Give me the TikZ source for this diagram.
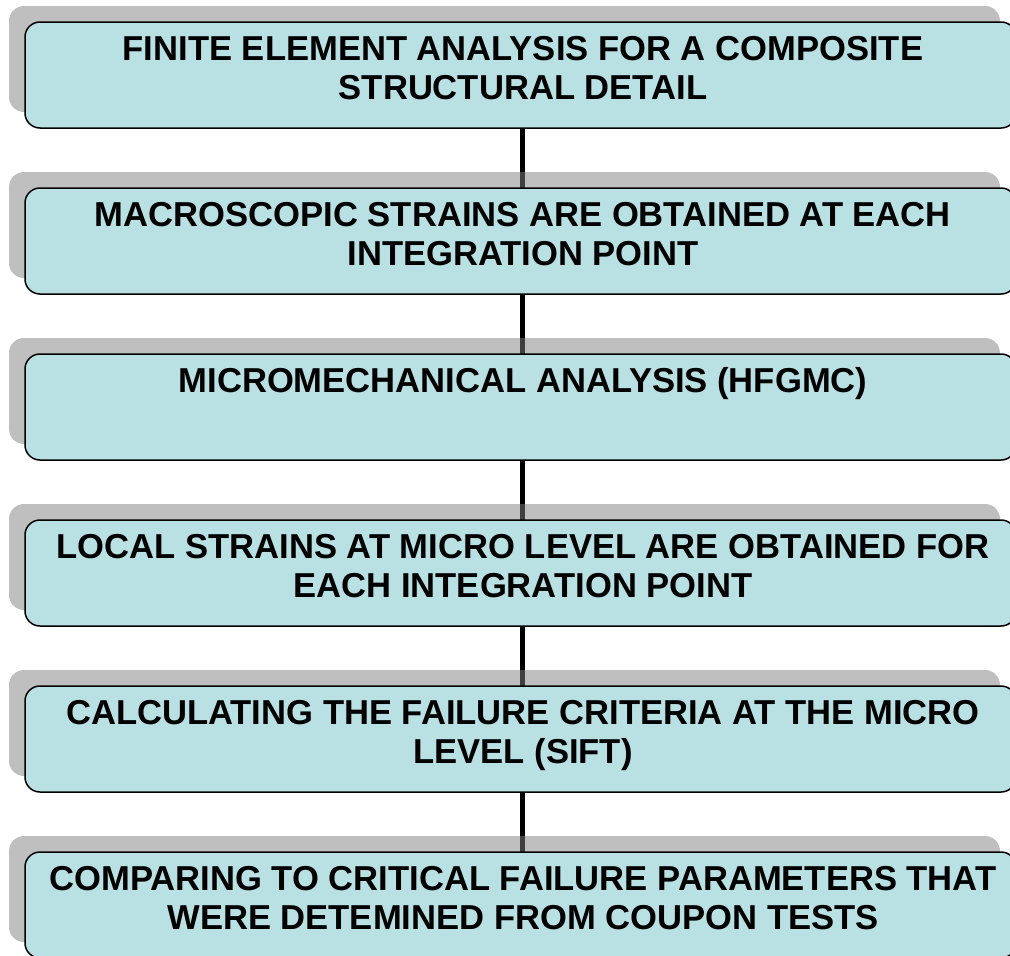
\documentclass[tikz,border=0pt]{standalone}
\usepackage{fontspec}
\setmainfont{Liberation Sans}
\usetikzlibrary{shadows,backgrounds}
\definecolor{boxfill}{RGB}{185,224,227}
\tikzset{
  stepbox/.style={draw=black, line width=1.5pt, fill=boxfill, rounded corners=15pt,
    minimum width=991pt, minimum height=106pt, inner sep=0pt, outer sep=0pt,
    drop shadow={shadow xshift=-16pt, shadow yshift=16pt, opacity=0.5, fill=black!50}},
  steptext/.style={anchor=base, align=center, inner sep=0pt,
    font=\bfseries\fontsize{34.6}{38.5}\selectfont},
  link/.style={line width=5pt, draw=black}
}
\begin{document}
\begin{tikzpicture}[x=1pt,y=-1pt]
\useasboundingbox (0,0) rectangle (1010,956);
\clip (0,0) rectangle (1010,956);
\node[stepbox] (b1) at (520.5,75) {};
\node[stepbox] (b2) at (520.5,241) {};
\node[stepbox] (b3) at (520.5,407) {};
\node[stepbox] (b4) at (520.5,573) {};
\node[stepbox] (b5) at (520.5,739) {};
\node[stepbox] (b6) at (520.5,905) {};
\node[steptext] (t1) at (523,99) {FINITE ELEMENT ANALYSIS FOR A COMPOSITE\\STRUCTURAL DETAIL};
\node[steptext] (t2) at (523,265) {MACROSCOPIC STRAINS ARE OBTAINED AT EACH\\INTEGRATION POINT};
\node[steptext] (t3) at (523,392.5) {MICROMECHANICAL ANALYSIS (HFGMC)};
\node[steptext] (t4) at (523,597) {LOCAL STRAINS AT MICRO LEVEL ARE OBTAINED FOR\\EACH INTEGRATION POINT};
\node[steptext] (t5) at (523,763) {CALCULATING THE FAILURE CRITERIA AT THE MICRO\\LEVEL (SIFT)};
\node[steptext] (t6) at (523,929) {COMPARING TO CRITICAL FAILURE PARAMETERS THAT\\WERE DETEMINED FROM COUPON TESTS};
\begin{pgfonlayer}{background}
\draw[link] ([xshift=1.5pt]b1.south) -- ([xshift=1.5pt]b2.north);
\draw[link] ([xshift=1.5pt]b2.south) -- ([xshift=1.5pt]b3.north);
\draw[link] ([xshift=1.5pt]b3.south) -- ([xshift=1.5pt]b4.north);
\draw[link] ([xshift=1.5pt]b4.south) -- ([xshift=1.5pt]b5.north);
\draw[link] ([xshift=1.5pt]b5.south) -- ([xshift=1.5pt]b6.north);
\end{pgfonlayer}
\end{tikzpicture}
\end{document}
